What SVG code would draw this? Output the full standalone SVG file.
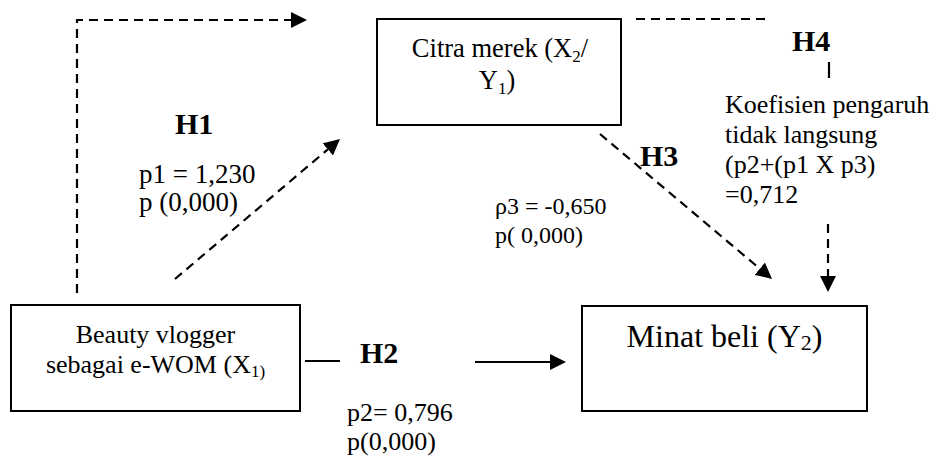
<svg xmlns="http://www.w3.org/2000/svg" width="936" height="462" viewBox="0 0 936 462">
<style>
  .box { fill: #fff; stroke: #000; stroke-width: 2; }
  .t { font-family: "Liberation Serif", "Times New Roman", serif; fill: #000; font-size: 26px; }
  .c { text-anchor: middle; }
  .h { font-weight: bold; font-size: 30px; }
  .dash { fill: none; stroke: #000; stroke-width: 2.2; stroke-dasharray: 9 6; }
  .solid { fill: none; stroke: #000; stroke-width: 2.2; }
</style>
<defs>
  <marker id="arr" viewBox="0 0 16 16" refX="0" refY="8" markerWidth="16" markerHeight="16" markerUnits="userSpaceOnUse" orient="auto">
    <path d="M0,0 L16,8 L0,16 z" fill="#000"/>
  </marker>
</defs>
<rect width="936" height="462" fill="#fff"/>

<g id="connectors">
  <path class="dash" d="M77,293 V20 H291" marker-end="url(#arr)"/>
  <line class="dash" x1="175" y1="279" x2="327.8" y2="149.4" marker-end="url(#arr)"/>
  <line class="dash" x1="600" y1="134" x2="759.8" y2="268.7" marker-end="url(#arr)"/>
  <line class="dash" x1="636" y1="19" x2="770" y2="19"/>
  <line class="solid" x1="829" y1="62" x2="829" y2="78"/>
  <line class="dash" x1="828" y1="224" x2="828" y2="276" marker-end="url(#arr)"/>
  <line class="solid" x1="305" y1="361" x2="340" y2="361"/>
  <line class="solid" x1="475" y1="362" x2="550" y2="362" marker-end="url(#arr)"/>
</g>

<g id="citra">
  <rect class="box" x="377" y="19" width="244" height="106"/>
  <text class="t c" x="500" y="57" style="font-size:26.5px">Citra merek (X<tspan font-size="17" dy="5">2</tspan><tspan dy="-5">/</tspan></text>
  <text class="t c" x="497" y="89" style="font-size:26.5px">Y<tspan font-size="17" dy="5">1</tspan><tspan dy="-5">)</tspan></text>
</g>

<g id="beauty">
  <rect class="box" x="11" y="305" width="289" height="106"/>
  <text class="t c" x="155.5" y="343">Beauty vlogger</text>
  <text class="t c" x="155.5" y="373">sebagai e-WOM (X<tspan font-size="17" dy="4">1)</tspan></text>
</g>

<g id="minat">
  <rect class="box" x="582" y="306" width="285" height="105"/>
  <text class="t c" x="724.5" y="347" style="font-size:32px">Minat beli (Y<tspan font-size="22" dy="3">2</tspan><tspan dy="-3">)</tspan></text>
</g>

<g id="labels">
  <text class="t h" x="175" y="134">H1</text>
  <text class="t" x="139" y="183" style="font-size:27px">p1 = 1,230</text>
  <text class="t" x="139" y="211" style="font-size:27px">p (0,000)</text>

  <text class="t h" x="360" y="363">H2</text>
  <text class="t" x="347" y="421">p2= 0,796</text>
  <text class="t" x="347" y="450">p(0,000)</text>

  <text class="t h" x="640" y="166">H3</text>
  <text class="t" x="495" y="214" style="font-size:24px">ρ3 = -0,650</text>
  <text class="t" x="495" y="243" style="font-size:24px">p( 0,000)</text>

  <text class="t h" x="792" y="51">H4</text>
  <text class="t" x="725" y="113">Koefisien pengaruh</text>
  <text class="t" x="725" y="143">tidak langsung</text>
  <text class="t" x="725" y="173">(p2+(p1 X p3)</text>
  <text class="t" x="725" y="203">=0,712</text>
</g>
</svg>
